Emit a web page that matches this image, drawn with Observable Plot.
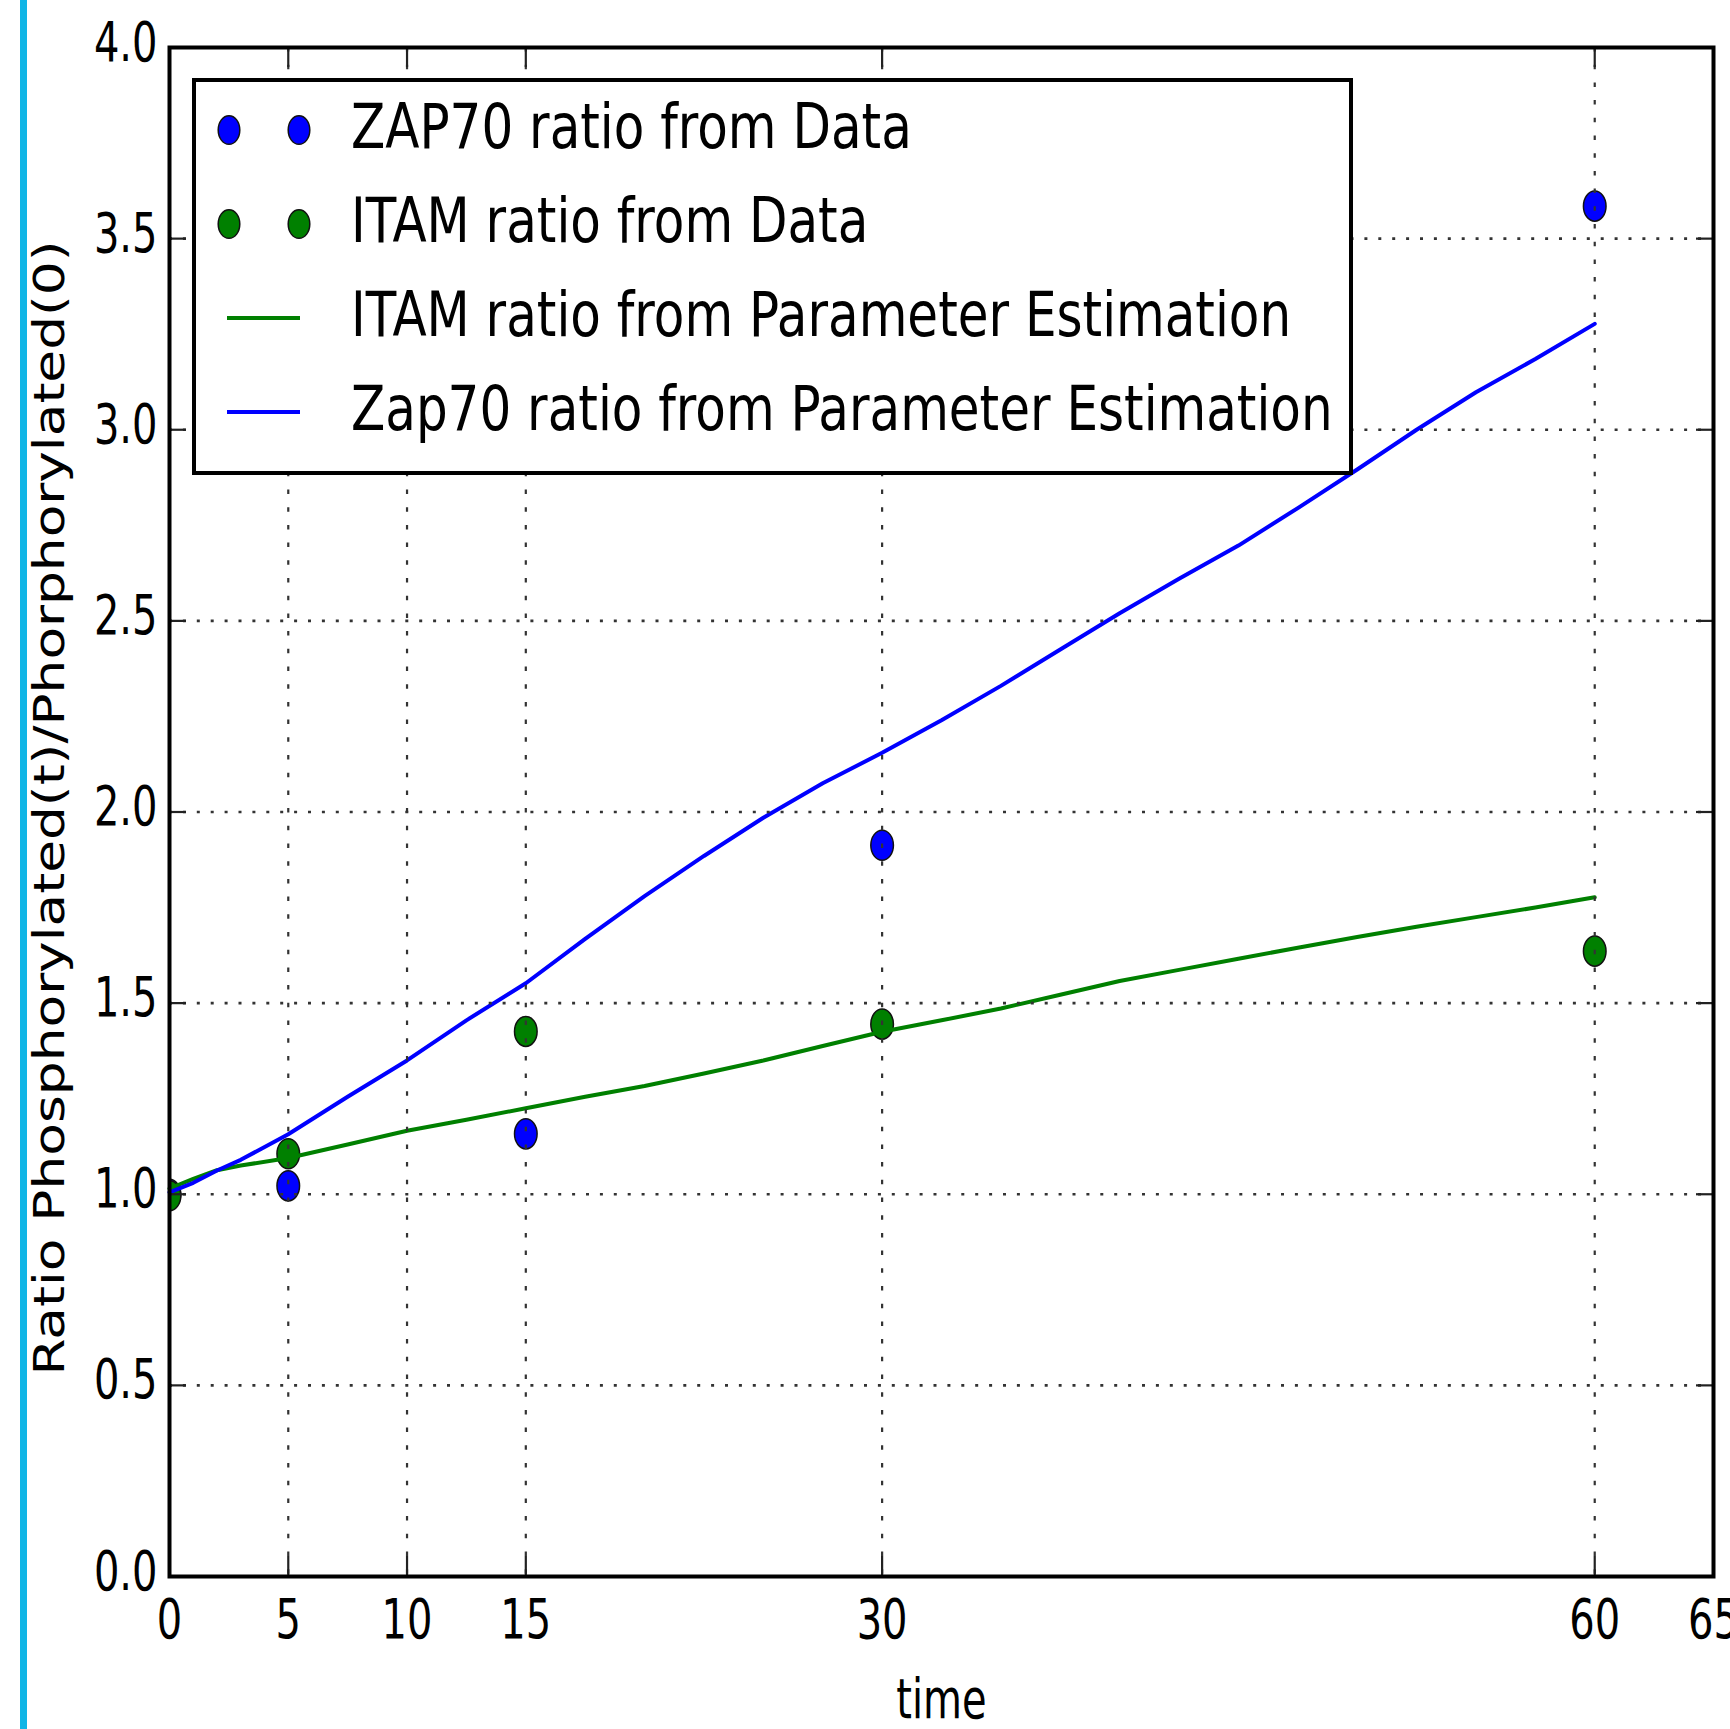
<!DOCTYPE html>
<html><head><meta charset="utf-8">
<script src="https://cdn.jsdelivr.net/npm/d3@7"></script>
<script src="https://cdn.jsdelivr.net/npm/@observablehq/plot@0.6"></script>
<style>html,body{margin:0;padding:0;background:#fff;} #chart{position:relative;width:1730px;height:1729px;overflow:hidden;}</style>
</head><body><div id="chart"></div>
<script>
// ---- data ----
const times = [0, 5, 15, 30, 60];
const zap70Data = [1.0, 1.022, 1.158, 1.913, 3.585];
const itamData = [0.996, 1.106, 1.426, 1.445, 1.636];

const fitTimes = [0, 1, 2, 3, 5, 7.5, 10, 12.5, 15, 17.5, 20, 22.5, 25, 27.5, 30, 32.5, 35, 37.5, 40, 42.5, 45, 47.5, 50, 52.5, 55, 57.5, 60];
const zap70Fit = [1.005, 1.03, 1.062, 1.09, 1.157, 1.255, 1.35, 1.455, 1.552, 1.668, 1.78, 1.885, 1.985, 2.075, 2.155, 2.24, 2.33, 2.425, 2.52, 2.61, 2.697, 2.795, 2.896, 3.0, 3.098, 3.185, 3.277];
const itamFit = [1.015, 1.04, 1.063, 1.075, 1.095, 1.13, 1.166, 1.195, 1.225, 1.255, 1.283, 1.316, 1.35, 1.388, 1.425, 1.455, 1.486, 1.522, 1.558, 1.587, 1.616, 1.645, 1.673, 1.70, 1.725, 1.75, 1.777];

const xTicks = [0, 5, 10, 15, 30, 60, 65];
const yTicks = [0, 0.5, 1.0, 1.5, 2.0, 2.5, 3.0, 3.5, 4.0];
const xLabel = "time";
const yLabel = "Ratio Phosphorylated(t)/Phorphorylated(0)";
const legendLabels = ["ZAP70 ratio from Data", "ITAM ratio from Data", "ITAM ratio from Parameter Estimation", "Zap70 ratio from Parameter Estimation"];
const colors = {blue: "#0000ff", green: "#008000"};

// ---- tables ----
const zapPts = times.map((t, i) => ({t, v: zap70Data[i]}));
const itamPts = times.map((t, i) => ({t, v: itamData[i]}));
const zapFitPts = fitTimes.map((t, i) => ({t, v: zap70Fit[i]}));
const itamFitPts = fitTimes.map((t, i) => ({t, v: itamFit[i]}));

const W = 1730, H = 1729, mt = 47, mr = 17, mb = 153, ml = 169;
const plotW = W - ml - mr, plotH = H - mt - mb;

const ellipse = {
  draw(ctx, size) {
    const r = Math.sqrt(size / Math.PI), rx = r, ry = r * 1.33, k = 0.5522847498;
    ctx.moveTo(rx, 0);
    ctx.bezierCurveTo(rx, ry * k, rx * k, ry, 0, ry);
    ctx.bezierCurveTo(-rx * k, ry, -rx, ry * k, -rx, 0);
    ctx.bezierCurveTo(-rx, -ry * k, -rx * k, -ry, 0, -ry);
    ctx.bezierCurveTo(rx * k, -ry, rx, -ry * k, rx, 0);
    ctx.closePath();
  }
};

const svg = Plot.plot({
  width: W, height: H,
  marginTop: mt, marginRight: mr, marginBottom: mb, marginLeft: ml,
  style: {fontFamily: "DejaVu Sans", background: "#fff", overflow: "hidden"},
  x: {domain: [0, 65], axis: null},
  y: {domain: [0, 4], axis: null},
  marks: [
    Plot.dot(zapPts, {x: "t", y: "v", r: 11.3, symbol: ellipse, fill: colors.blue, stroke: "#111", strokeWidth: 1.5, clip: true}),
    Plot.dot(itamPts, {x: "t", y: "v", r: 11.3, symbol: ellipse, fill: colors.green, stroke: "#111", strokeWidth: 1.5, clip: true}),
    Plot.line(itamFitPts, {x: "t", y: "v", stroke: colors.green, strokeWidth: 4}),
    Plot.line(zapFitPts, {x: "t", y: "v", stroke: colors.blue, strokeWidth: 4}),
    // grid (drawn above data, classic matplotlib)
    Plot.ruleX(xTicks, {x: d => d, stroke: "#333", strokeWidth: 2.2, strokeDasharray: "4.5,13.2"}),
    Plot.ruleY(yTicks, {y: d => d, stroke: "#333", strokeWidth: 2.6, strokeDasharray: "3,10.9"}),
    // inward ticks on all sides
    Plot.ruleX(xTicks, {x: d => d, stroke: "#222", strokeWidth: 2.2, insetTop: plotH - 20}),
    Plot.ruleX(xTicks, {x: d => d, stroke: "#222", strokeWidth: 2.2, insetBottom: plotH - 20}),
    Plot.ruleY(yTicks, {y: d => d, stroke: "#222", strokeWidth: 2.2, insetRight: plotW - 17}),
    Plot.ruleY(yTicks, {y: d => d, stroke: "#222", strokeWidth: 2.2, insetLeft: plotW - 17}),
    Plot.frame({stroke: "#000", strokeWidth: 4}),
    // tick labels and axis labels
    Plot.text(xTicks, {x: d => d, frameAnchor: "bottom", dy: 61, lineAnchor: "bottom", textAnchor: "middle", text: d => String(d), fontSize: 40, fill: "#000"}),
    Plot.text(yTicks, {y: d => d, frameAnchor: "left", dx: -12, dy: 13, lineAnchor: "bottom", textAnchor: "end", text: d => d.toFixed(1), fontSize: 40, fill: "#000"}),
    Plot.text([xLabel], {frameAnchor: "bottom", dy: 141, lineAnchor: "bottom", textAnchor: "middle", text: d => d, fontSize: 40, fill: "#000"}),
    Plot.text([yLabel], {frameAnchor: "left", dx: -106, dy: -4, rotate: -90, lineAnchor: "bottom", textAnchor: "middle", text: d => d, fontSize: 42.5, fill: "#000"})
  ]
});

// stretch text vertically (the reference image is vertically stretched)
function stretchText(t, sx, sy) {
  const tr = t.getAttribute("transform");
  if (tr && tr.includes("translate")) {
    t.setAttribute("transform", tr + ` scale(${sx},${sy})`);
  } else {
    const x = parseFloat(t.getAttribute("x") || 0), y = parseFloat(t.getAttribute("y") || 0);
    t.removeAttribute("x"); t.removeAttribute("y");
    t.setAttribute("transform", `translate(${x},${y}) ${tr || ""} scale(${sx},${sy})`);
  }
}
const textGroups = [...svg.children].filter(g => g.tagName.toLowerCase() === "g" && g.querySelector("text"));
const stretches = [[1, 1.4], [1, 1.4], [1, 1.38], [1.256, 1]];
textGroups.forEach((g, i) => {
  const s = stretches[i] || [1, 1];
  g.querySelectorAll("text").forEach(t => stretchText(t, s[0], s[1]));
});

// legend
const sel = d3.select(svg);
const lg = sel.append("g").attr("font-family", "DejaVu Sans").attr("text-anchor", "start");
lg.append("rect").attr("x", 194).attr("y", 80).attr("width", 1157).attr("height", 393)
  .attr("fill", "#fff").attr("stroke", "#000").attr("stroke-width", 4);
const baselines = [148, 242, 336, 430];
const kinds = [["dot", colors.blue], ["dot", colors.green], ["line", colors.green], ["line", colors.blue]];
legendLabels.forEach((lab, i) => {
  const b = baselines[i], cy = b - 18, [kind, c] = kinds[i];
  if (kind === "dot") {
    [229, 299].forEach(cx => lg.append("ellipse").attr("cx", cx).attr("cy", cy).attr("rx", 10.8).attr("ry", 14.3)
      .attr("fill", c).attr("stroke", "#111").attr("stroke-width", 1.5));
  } else {
    lg.append("line").attr("x1", 227).attr("x2", 300).attr("y1", cy).attr("y2", cy)
      .attr("stroke", c).attr("stroke-width", 4);
  }
  lg.append("text").attr("transform", `translate(351,${b}) scale(1,1.23)`)
    .attr("font-size", 50).attr("fill", "#000").attr("text-anchor", "start").text(lab);
});

// cyan bar at left edge
sel.append("rect").attr("x", 20).attr("y", 0).attr("width", 7).attr("height", H).attr("fill", "#10b5e6");

document.getElementById("chart").appendChild(svg);
</script>
</body></html>
